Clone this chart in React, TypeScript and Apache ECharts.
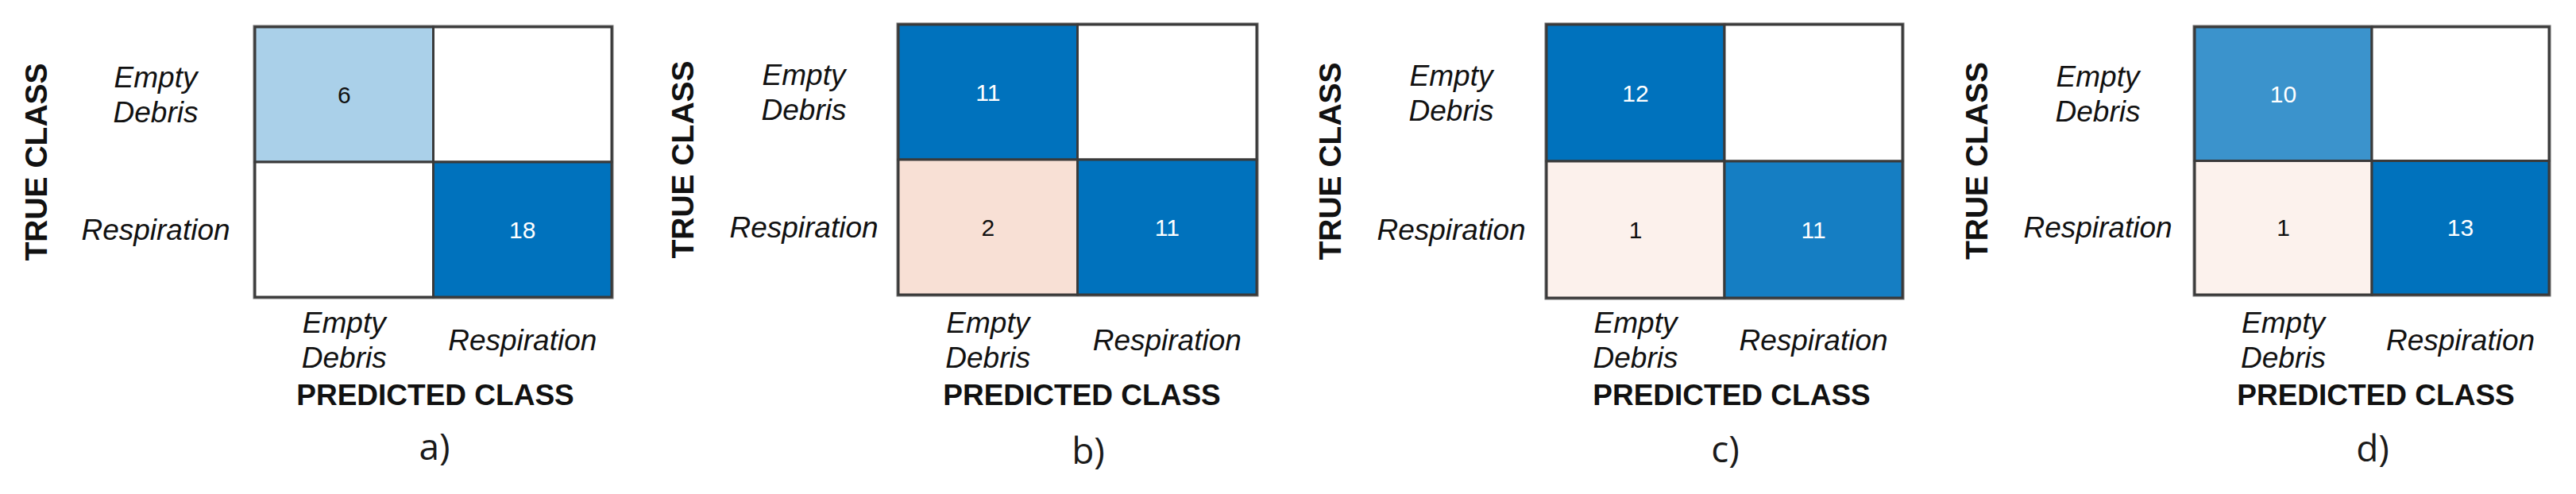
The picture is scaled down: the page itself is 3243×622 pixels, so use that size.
import React, { useEffect, useRef } from "react";
import * as echarts from "echarts";

// ---- data ----
const predictedClasses = ["Empty\nDebris", "Respiration"];
const trueClasses = ["Empty\nDebris", "Respiration"];
const panelLabels = ["a)", "b)", "c)", "d)"];
const yAxisTitle = "TRUE CLASS";
const xAxisTitle = "PREDICTED CLASS";
// rows = true class, cols = predicted class
const matrixA = [
  [6, 0],
  [0, 18],
];
const matrixB = [
  [11, 0],
  [2, 11],
];
const matrixC = [
  [12, 0],
  [1, 11],
];
const matrixD = [
  [10, 0],
  [1, 13],
];
const matrices = [matrixA, matrixB, matrixC, matrixD];

// ---- layout (pixels) ----
const grids = [
  { left: 321, top: 34, width: 449, height: 340, yMargin: 125, trueX: 45, predX: 548, capX: 547, capY: 561 },
  { left: 1131, top: 31, width: 451, height: 340, yMargin: 119, trueX: 859, predX: 1362, capX: 1370, capY: 566 },
  { left: 1947, top: 31, width: 448, height: 344, yMargin: 120, trueX: 1674, predX: 2180, capX: 2172, capY: 564 },
  { left: 2763, top: 34, width: 446, height: 337, yMargin: 122, trueX: 2488, predX: 2991, capX: 2987, capY: 563 },
];

const DIAG = [0, 114, 189];
const OFF = [217, 83, 25];
function blend(base: number[], t: number) {
  const c = base.map((b) => Math.round(255 - (255 - b) * t));
  return `rgb(${c[0]},${c[1]},${c[2]})`;
}

const FONT = "'Liberation Sans', Arial, sans-serif";

export default function App() {
  const ref = useRef<HTMLDivElement>(null);
  useEffect(() => {
    if (!ref.current) return;
    const chart = echarts.init(ref.current, undefined, { renderer: "svg" });

    const gridOpt: any[] = [];
    const xAxes: any[] = [];
    const yAxes: any[] = [];
    const series: any[] = [];
    const graphics: any[] = [];

    matrices.forEach((m, i) => {
      const g = grids[i];
      const maxV = Math.max(...m.flat());
      gridOpt.push({
        left: g.left,
        top: g.top,
        width: g.width,
        height: g.height,
        show: true,
        borderColor: "#707070",
        borderWidth: 5,
        backgroundColor: "#ffffff",
      });
      xAxes.push({
        type: "category",
        gridIndex: i,
        data: predictedClasses,
        position: "bottom",
        axisLine: { show: false },
        axisTick: { show: false },
        splitLine: { show: false },
        axisLabel: {
          interval: 0,
          hideOverlap: false,
          margin: 428 - (g.top + g.height),
          verticalAlign: "middle",
          align: "center",
          fontFamily: FONT,
          fontStyle: "italic",
          fontSize: 37,
          lineHeight: 44,
          color: "#111",
        },
      });
      yAxes.push({
        type: "category",
        gridIndex: i,
        data: trueClasses,
        inverse: true,
        axisLine: { show: false },
        axisTick: { show: false },
        splitLine: { show: false },
        axisLabel: {
          interval: 0,
          hideOverlap: false,
          margin: g.yMargin,
          align: "center",
          verticalAlign: "middle",
          fontFamily: FONT,
          fontStyle: "italic",
          fontSize: 37,
          lineHeight: 44,
          color: "#111",
        },
      });
      const cells: { c: number; r: number; v: number; fill: string; txt: string }[] = [];
      m.forEach((row, r) => {
        row.forEach((v, c) => {
          const t = v / maxV;
          cells.push({
            c,
            r,
            v,
            fill: v === 0 ? "#ffffff" : blend(r === c ? DIAG : OFF, t),
            txt: r === c && t > 0.5 ? "#ffffff" : "#111111",
          });
        });
      });
      series.push({
        type: "custom",
        xAxisIndex: i,
        yAxisIndex: i,
        data: cells.map((d) => [d.c, d.r, d.v]),
        renderItem: (params: any, api: any) => {
          const d = cells[params.dataIndex];
          const p = api.coord([api.value(0), api.value(1)]);
          const s = api.size([1, 1]);
          return {
            type: "group",
            children: [
              {
                type: "rect",
                shape: { x: p[0] - s[0] / 2, y: p[1] - s[1] / 2, width: s[0], height: s[1] },
                style: { fill: d.fill, stroke: "#3a3a3a", lineWidth: 3 },
              },
              {
                type: "text",
                x: p[0],
                y: p[1],
                style: {
                  text: d.v === 0 ? "" : String(d.v),
                  fontFamily: FONT,
                  fontSize: 30,
                  fill: d.txt,
                  align: "center",
                  verticalAlign: "middle",
                },
              },
            ],
          };
        },
      });
      graphics.push({
        type: "text",
        x: g.trueX,
        y: g.top + g.height / 2,
        rotation: Math.PI / 2,
        style: {
          text: yAxisTitle,
          fontFamily: FONT,
          fontWeight: "bold",
          fontSize: 39,
          fill: "#111",
          align: "center",
          verticalAlign: "middle",
        },
      });
      graphics.push({
        type: "text",
        x: g.predX,
        y: 497,
        style: {
          text: xAxisTitle,
          fontFamily: FONT,
          fontWeight: "bold",
          fontSize: 37,
          fill: "#111",
          align: "center",
          verticalAlign: "middle",
        },
      });
      graphics.push({
        type: "text",
        x: g.capX,
        y: g.capY,
        style: {
          text: panelLabels[i],
          fontFamily: "'Open Sans', sans-serif",
          fontSize: 46,
          fill: "#1a1a1a",
          align: "center",
          verticalAlign: "middle",
        },
      });
    });

    chart.setOption({
      animation: false,
      backgroundColor: "#ffffff",
      grid: gridOpt,
      xAxis: xAxes,
      yAxis: yAxes,
      series,
      graphic: graphics,
    });
    return () => chart.dispose();
  }, []);

  return (
    <div
      ref={ref}
      style={{ position: "absolute", left: 0, top: 0, width: 3243, height: 622 }}
    />
  );
}
